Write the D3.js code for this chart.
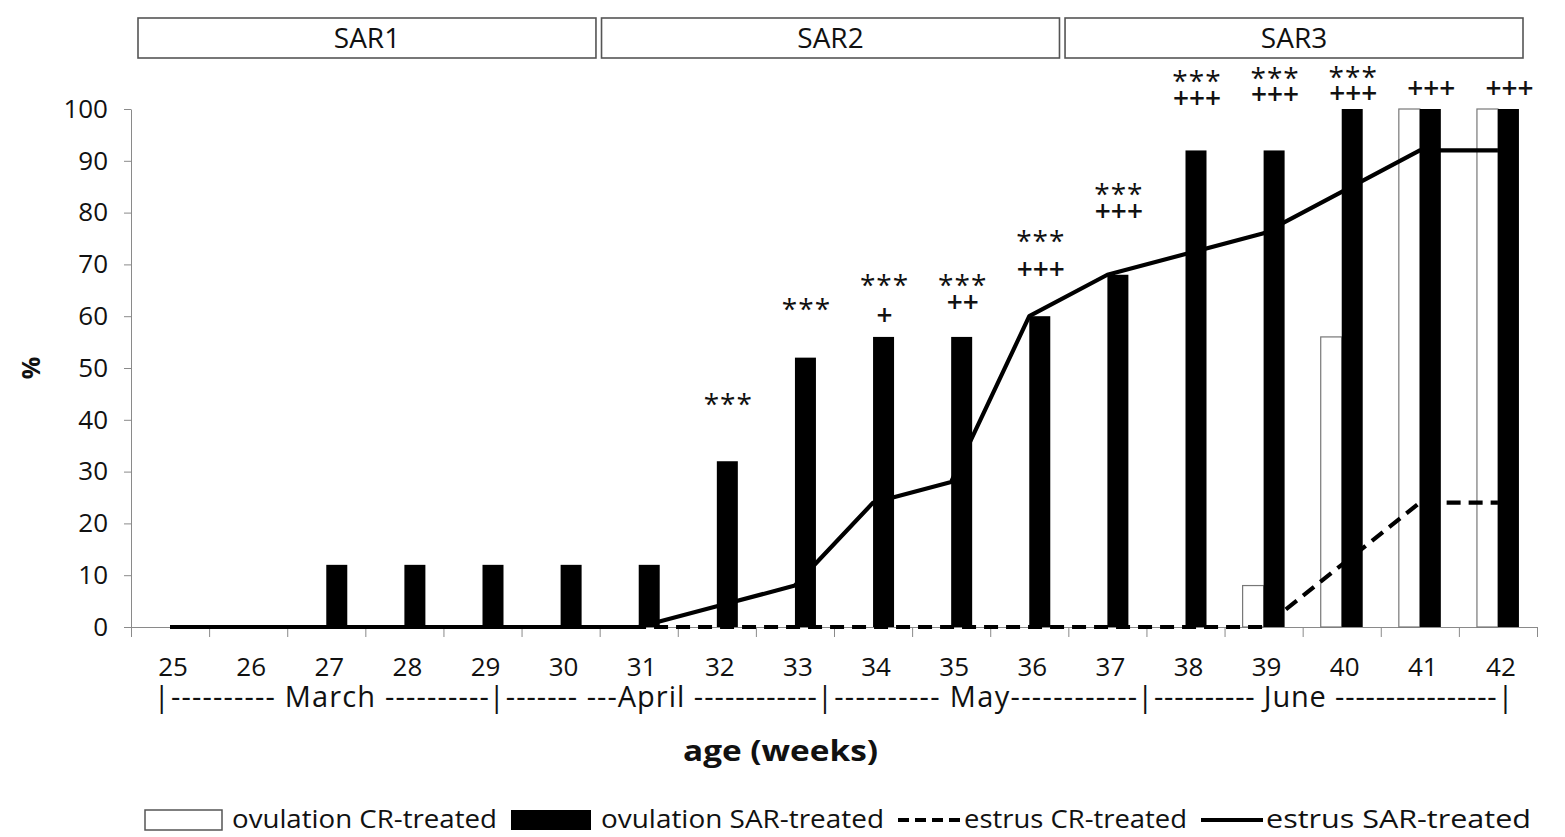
<!DOCTYPE html>
<html>
<head>
<meta charset="utf-8">
<script src="https://cdn.jsdelivr.net/npm/d3@7"></script>
<style>
  body { margin: 0; background: #fff; font-family: "Open Sans", sans-serif; }
  svg text { font-family: "Open Sans", sans-serif; fill: #111; }
  .axis path, .axis line { stroke: #8a8a8a; }
</style>
</head>
<body>
<script>
// weeks of age
var weeks = [25, 26, 27, 28, 29, 30, 31, 32, 33, 34, 35, 36, 37, 38, 39, 40, 41, 42];
// % per week
var ovulationCR  = [0, 0, 0, 0, 0, 0, 0, 0, 0, 0, 0, 0, 0, 0, 8, 56, 100, 100];
var ovulationSAR = [0, 0, 12, 12, 12, 12, 12, 32, 52, 56, 56, 60, 68, 92, 92, 100, 100, 100];
var estrusCR     = [0, 0, 0, 0, 0, 0, 0, 0, 0, 0, 0, 0, 0, 0, 0, 12, 24, 24];
var estrusSAR    = [0, 0, 0, 0, 0, 0, 0, 4, 8, 24, 28, 60, 68, 72, 76, 84, 92, 92];
var yTicks = [0, 10, 20, 30, 40, 50, 60, 70, 80, 90, 100];

var phases = ["SAR1", "SAR2", "SAR3"];
var monthLabels = ["|---------- March ----------", "|------- ---April ------------", "|---------- May------------", "|---------- June ----------------|"];
var monthEdges = [24.83, 29.12, 33.32, 37.42, 42.16];   // month boundaries on the week axis

// significance marks over the SAR bars
var markWeeks  = [32, 33, 34, 35, 36, 37, 38, 39, 40, 41, 42];
var markStars  = ["***", "***", "***", "***", "***", "***", "***", "***", "***", "", ""];
var markPlus   = ["", "", "+", "++", "+++", "+++", "+++", "+++", "+++", "+++", "+++"];
var starLevel  = [44, 62.5, 67, 67, 75.5, 84.7, 106.4, 107.1, 107.3, null, null];
var plusLevel  = [null, null, 60.4, 62.9, 69.3, 80.5, 102.3, 103.1, 103.3, 104.2, 104.2];

var legendNames = ["ovulation CR-treated", "ovulation SAR-treated", "estrus CR-treated", "estrus SAR-treated"];

var width = 1565, height = 837;
var mLeft = 131, mRight = 1537, mTop = 109, mBottom = 627;

var svg = d3.select("body").append("svg")
    .attr("width", width)
    .attr("height", height);

var x = d3.scaleBand().domain(weeks).range([mLeft, mRight]);
var xs = d3.scaleBand().domain(["cr", "sar"]).range([0, x.bandwidth()]).paddingOuter(0.86);
var xl = d3.scaleLinear().domain([24.5, 42.5]).range([mLeft, mRight]);
var y = d3.scaleLinear().domain([0, 100]).range([mBottom, mTop]);

// phase boxes on top
var ph = d3.scaleBand().domain(phases).range([138, 1523]).paddingInner(0.012);
var pg = svg.selectAll("g.phase").data(phases).enter().append("g").attr("class", "phase");
pg.append("rect")
    .attr("x", function(d) { return ph(d); })
    .attr("y", 18)
    .attr("width", ph.bandwidth())
    .attr("height", 40)
    .style("fill", "#fff")
    .style("stroke", "#555")
    .style("stroke-width", 1.6);
pg.append("text")
    .attr("x", function(d) { return ph(d) + ph.bandwidth() / 2; })
    .attr("y", 48)
    .attr("text-anchor", "middle")
    .style("font-size", "28px")
    .text(function(d) { return d; });

// y axis
var yAxis = svg.append("g")
    .attr("class", "axis")
    .attr("transform", "translate(" + mLeft + ",0)")
    .call(d3.axisLeft(y).tickValues(yTicks).tickSize(7).tickSizeOuter(0).tickPadding(16));
yAxis.selectAll("text").style("font-size", "26px");

// x axis: boundary ticks and centred labels
var bounds = weeks.map(function(w) { return w - 0.5; }).concat([42.5]);
svg.append("g")
    .attr("class", "axis")
    .attr("transform", "translate(0," + mBottom + ")")
    .call(d3.axisBottom(xl).tickValues(bounds).tickFormat("").tickSize(10).tickSizeOuter(0));
var xLab = svg.append("g")
    .attr("transform", "translate(3," + mBottom + ")")
    .call(d3.axisBottom(x).tickSize(0).tickPadding(31));
xLab.select(".domain").remove();
xLab.selectAll("text").style("font-size", "26px");

// bars
svg.selectAll("rect.cr")
    .data(weeks.filter(function(w, i) { return ovulationCR[i] > 0; }))
    .enter().append("rect")
    .attr("class", "cr")
    .attr("x", function(d) { return x(d) + xs("cr"); })
    .attr("y", function(d) { return y(ovulationCR[weeks.indexOf(d)]); })
    .attr("width", xs.bandwidth())
    .attr("height", function(d) { return mBottom - y(ovulationCR[weeks.indexOf(d)]); })
    .style("fill", "#fff")
    .style("stroke", "#777")
    .style("stroke-width", 1.2);

svg.selectAll("rect.sar")
    .data(weeks.filter(function(w, i) { return ovulationSAR[i] > 0; }))
    .enter().append("rect")
    .attr("class", "sar")
    .attr("x", function(d) { return x(d) + xs("sar"); })
    .attr("y", function(d) { return y(ovulationSAR[weeks.indexOf(d)]); })
    .attr("width", xs.bandwidth())
    .attr("height", function(d) { return mBottom - y(ovulationSAR[weeks.indexOf(d)]); })
    .style("fill", "#000");

// lines
var line = d3.line()
    .x(function(d) { return x(d[0]) + x.bandwidth() / 2; })
    .y(function(d) { return y(d[1]); });

svg.append("path")
    .datum(weeks.map(function(w, i) { return [w, estrusCR[i]]; }))
    .attr("d", line)
    .style("fill", "none")
    .style("stroke", "#000")
    .style("stroke-width", 4.2)
    .style("stroke-dasharray", "14,8");

svg.append("path")
    .datum(weeks.map(function(w, i) { return [w, estrusSAR[i]]; }))
    .attr("d", line)
    .style("fill", "none")
    .style("stroke", "#000")
    .style("stroke-width", 4.2)
    .style("stroke-linejoin", "round");

// significance marks
var markX = function(w) { return x(w) + xs("sar") + xs.bandwidth() / 2 + 1; };
svg.selectAll("text.star")
    .data(markWeeks.filter(function(w, i) { return markStars[i] !== ""; }))
    .enter().append("text")
    .attr("class", "star")
    .attr("x", markX)
    .attr("y", function(d) { return y(starLevel[markWeeks.indexOf(d)]); })
    .attr("dy", "0.55em")
    .attr("text-anchor", "middle")
    .style("font-size", "28px")
    .style("letter-spacing", "1px")
    .text(function(d) { return markStars[markWeeks.indexOf(d)]; });

svg.selectAll("text.plus")
    .data(markWeeks.filter(function(w, i) { return markPlus[i] !== ""; }))
    .enter().append("text")
    .attr("class", "plus")
    .attr("x", markX)
    .attr("y", function(d) { return y(plusLevel[markWeeks.indexOf(d)]); })
    .attr("dy", "0.38em")
    .attr("text-anchor", "middle")
    .style("font-size", "28px")
    .style("font-weight", "600")
    .text(function(d) { return markPlus[markWeeks.indexOf(d)]; });

// month row
svg.selectAll("text.month")
    .data(monthLabels)
    .enter().append("text")
    .attr("class", "month")
    .attr("x", function(d, i) { return xl(monthEdges[i]) - 3; })
    .attr("y", 707)
    .attr("textLength", function(d, i) { return xl(monthEdges[i + 1]) - xl(monthEdges[i]) + (i === 3 ? 6 : 0); })
    .attr("lengthAdjust", "spacing")
    .style("font-size", "29px")
    .text(function(d) { return d; });

// axis titles
svg.append("text")
    .attr("transform", "translate(40,368) rotate(-90)")
    .attr("text-anchor", "middle")
    .style("font-size", "25px")
    .style("font-weight", "bold")
    .text("%");

svg.append("text")
    .attr("x", 683)
    .attr("y", 761)
    .attr("textLength", 195)
    .attr("lengthAdjust", "spacingAndGlyphs")
    .style("font-size", "29px")
    .style("font-weight", "bold")
    .text("age (weeks)");

// legend
var swatchW = [77, 80, 63, 62];
var textW = [265, 283, 223, 265];
var lx = 145, ly = 820;
legendNames.forEach(function(name, i) {
    var g = svg.append("g").attr("class", "legend");
    if (i === 0) {
        g.append("rect").attr("x", lx).attr("y", ly - 10).attr("width", swatchW[i]).attr("height", 20)
            .style("fill", "#fff").style("stroke", "#555").style("stroke-width", 1.5);
    } else if (i === 1) {
        g.append("rect").attr("x", lx).attr("y", ly - 10).attr("width", swatchW[i]).attr("height", 20)
            .style("fill", "#000");
    } else {
        g.append("line").attr("x1", lx).attr("x2", lx + swatchW[i]).attr("y1", ly).attr("y2", ly)
            .style("stroke", "#000").style("stroke-width", 4)
            .style("stroke-dasharray", i === 2 ? "11,6" : null);
    }
    var tx = lx + swatchW[i] + (i < 2 ? 10 : 3);
    g.append("text")
        .attr("x", tx)
        .attr("y", ly + 8)
        .attr("textLength", textW[i])
        .attr("lengthAdjust", "spacingAndGlyphs")
        .style("font-size", "26px")
        .text(name);
    lx = tx + textW[i] + 14;
});
</script>
</body>
</html>
